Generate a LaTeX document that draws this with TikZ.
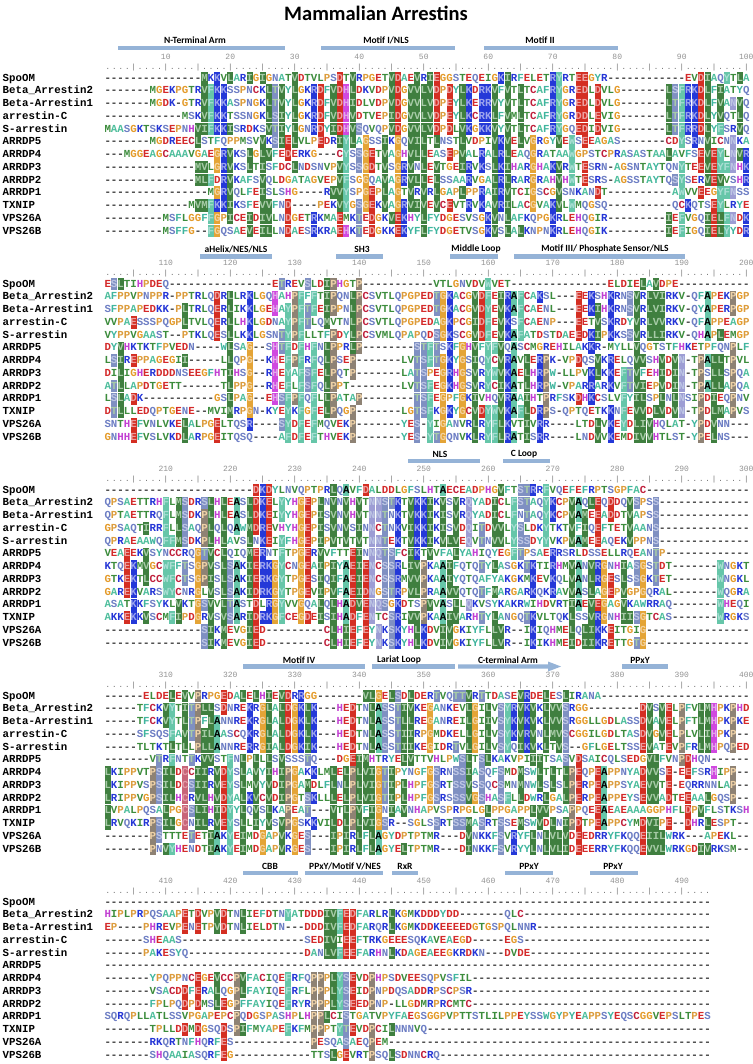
\documentclass[tikz,border=0pt]{standalone}
\usepackage{fontspec}
\setmonofont{Liberation Mono}
\newfontfamily\lblfont{Carlito}
\usepackage{xcolor}
% letter colours
\definecolor{LD}{HTML}{D42A2A}\definecolor{LE}{HTML}{D42A2A}
\definecolor{LK}{HTML}{2435D6}\definecolor{LR}{HTML}{2435D6}
\definecolor{LH}{HTML}{C23FD2}
\definecolor{LG}{HTML}{E49A28}\definecolor{LP}{HTML}{DC9C3C}
\definecolor{LI}{HTML}{3C8C3C}\definecolor{LL}{HTML}{3C8C3C}
\definecolor{LV}{HTML}{3C8C3C}\definecolor{LM}{HTML}{3C8C3C}
\definecolor{LT}{HTML}{3C8C3C}
\definecolor{LA}{HTML}{4DBE9C}
\definecolor{LF}{HTML}{3FB59E}\definecolor{LY}{HTML}{3FB59E}\definecolor{LW}{HTML}{3FB59E}
\definecolor{LS}{HTML}{6D7EC4}\definecolor{LN}{HTML}{6D7EC4}\definecolor{LQ}{HTML}{6D7EC4}
\definecolor{LC}{HTML}{C0203C}
\definecolor{Ldash}{HTML}{333333}
% box colours
\definecolor{BXh}{HTML}{3F7F3F}
\definecolor{BXf}{HTML}{66C6A9}
\definecolor{BXa}{HTML}{66C6A9}
\definecolor{BXk}{HTML}{2438D8}
\definecolor{BXd}{HTML}{D42E22}
\definecolor{BXH}{HTML}{D048E0}
\definecolor{BXg}{HTML}{E4A436}
\definecolor{BXp}{HTML}{8E8274}
\definecolor{BXs}{HTML}{7F90C2}
\definecolor{BXn}{HTML}{9D9DD4}
\definecolor{BXc}{HTML}{C86478}
\definecolor{barc}{HTML}{95B3D7}

\newcommand\cellN[1]{\makebox[6.45pt][c]{\textcolor{L#1}{#1}}}
\newcommand\cellB[1]{\makebox[6.45pt][c]{\textcolor{L#1!45!white}{#1}}}
\newcommand\cellK[1]{\makebox[6.45pt][c]{\textcolor{black}{#1}}}
\newcommand\celldash{\makebox[6.45pt][c]{\textcolor{Ldash}{-}}}
\newcommand\bxcell[5]{\fill[#5] (#1,#2) rectangle (#3,#4);}
\newcommand\rowtext[2]{\node[seqtext] at (104.5,{#1+3.1}) {#2};}
\newcommand\rulertext[2]{\node[rulerstyle] at (104.5,#1) {#2};}
\newcommand\rulernum[3]{\node[numstyle] at (#1,#2) {#3};}

\ExplSyntaxOn
\int_new:N \g_len_int
\int_new:N \l_aa_c_int
\int_new:N \l_aa_r_int
\tl_new:N \l_aa_ch_tl
\tl_new:N \l_aa_cls_tl
\tl_new:N \l_aa_row_tl
\fp_new:N \l_aa_y_fp
\int_const:Nn \c_aa_thr_int {5}
\clist_const:Nn \c_aa_classes_clist {h,f,a,k,d,H,g,p,s,n,c,x}
\clist_map_inline:Nn \c_aa_classes_clist { \int_new:c {l_aa_cnt_#1_int} }

\cs_new:Npn \aa_class:n #1
 {
  \str_case:nnF {#1}
   {
    {I}{h} {L}{h} {V}{h} {M}{h}
    {F}{f} {Y}{f} {W}{f}
    {A}{a}
    {K}{k} {R}{k}
    {D}{d} {E}{d}
    {H}{H}
    {G}{g}
    {P}{p}
    {S}{s} {T}{s}
    {N}{n} {Q}{n}
    {C}{c}
   }
   {x}
 }
\cs_generate_variant:Nn \aa_class:n {v}

\cs_new_protected:Npn \aa_store_row:nn #1 #2
 {
  \int_zero:N \l_aa_c_int
  \str_map_inline:nn {#2}
   {
    \int_compare:nNnT \l_aa_c_int < \g_len_int
     {
      \int_incr:N \l_aa_c_int
      \tl_set:cn { aa_ch_ \int_use:N \l_aa_c_int _ #1 } {##1}
     }
   }
  \int_while_do:nNnn \l_aa_c_int < \g_len_int
   {
    \int_incr:N \l_aa_c_int
    \tl_set:cn { aa_ch_ \int_use:N \l_aa_c_int _ #1 } {-}
   }
 }
\cs_generate_variant:Nn \aa_store_row:nn {Vn}

\cs_new_protected:Npn \aa_do_column:n #1
 {
  \clist_map_inline:Nn \c_aa_classes_clist { \int_zero:c {l_aa_cnt_##1_int} }
  \int_step_inline:nn {13}
   { \int_incr:c { l_aa_cnt_ \aa_class:v { aa_ch_#1_##1 } _int } }
  \int_step_inline:nn {13}
   {
    \tl_set:Nx \l_aa_cls_tl { \aa_class:v { aa_ch_#1_##1 } }
    \tl_set:cn { aa_fl_#1_##1 } {0}
    \str_if_eq:eeF { \l_aa_cls_tl } {x}
     {
      \int_compare:nNnT { \int_use:c { l_aa_cnt_ \l_aa_cls_tl _int } } > { \c_aa_thr_int - 1 }
       {
        \tl_set:cn { aa_fl_#1_##1 } {1}
        \use:x
         {
          \exp_not:N \bxcell
           { \fp_eval:n { 104.5 + (#1 - 1) * 6.45 + 0.2 } }
           { \fp_eval:n { \l_aa_y_fp + (##1 - 1) * 12.75 - 6.25 } }
           { \fp_eval:n { 104.5 + #1 * 6.45 - 0.2 } }
           { \fp_eval:n { \l_aa_y_fp + (##1 - 1) * 12.75 + 6.25 } }
           { BX \l_aa_cls_tl }
         }
       }
     }
   }
 }

\cs_new_protected:Npn \aa_typeset_row:n #1
 {
  \tl_clear:N \l_aa_row_tl
  \int_step_inline:nn { \g_len_int }
   {
    \tl_set_eq:Nc \l_aa_ch_tl { aa_ch_##1_#1 }
    \str_if_eq:eeTF { \l_aa_ch_tl } {-}
     { \tl_put_right:Nn \l_aa_row_tl { \celldash } }
     {
      \str_if_eq:eeTF { \tl_use:c { aa_fl_##1_#1 } } {1}
       {
        \str_if_eq:eeTF { \l_aa_ch_tl } {A}
         { \tl_put_right:Nx \l_aa_row_tl { \exp_not:N \cellK { \l_aa_ch_tl } } }
         { \tl_put_right:Nx \l_aa_row_tl { \exp_not:N \cellB { \l_aa_ch_tl } } }
       }
       { \tl_put_right:Nx \l_aa_row_tl { \exp_not:N \cellN { \l_aa_ch_tl } } }
     }
   }
  \use:x
   {
    \exp_not:N \rowtext
     { \fp_eval:n { \l_aa_y_fp + (#1 - 1) * 12.75 } }
     { \exp_not:V \l_aa_row_tl }
   }
 }

\NewDocumentCommand \drawblock { m m m }
 {
  \fp_set:Nn \l_aa_y_fp {#1}
  \int_gset:Nn \g_len_int {#2}
  \int_zero:N \l_aa_r_int
  \tl_map_inline:nn {#3}
   {
    \int_incr:N \l_aa_r_int
    \aa_store_row:Vn \l_aa_r_int {##1}
   }
  \int_step_inline:nn {#2} { \aa_do_column:n {##1} }
  \int_step_inline:nn {13} { \aa_typeset_row:n {##1} }
 }

\NewDocumentCommand \drawruler { m m m }
 {
  \tl_clear:N \l_aa_row_tl
  \int_step_inline:nn {#2}
   {
    \int_compare:nNnTF { \int_mod:nn {##1} {5} } = {0}
     { \tl_put_right:Nn \l_aa_row_tl { \makebox[6.45pt][c]{|} } }
     { \tl_put_right:Nn \l_aa_row_tl { \makebox[6.45pt][c]{.} } }
   }
  \use:x { \exp_not:N \rulertext {#1} { \exp_not:V \l_aa_row_tl } }
  \int_step_inline:nnnn {10} {10} {#2}
   {
    \use:x
     {
      \exp_not:N \rulernum
       { \fp_eval:n { 104.5 + (##1 - 0.5) * 6.45 } }
       { \fp_eval:n { #1 - 11 } }
       { \int_eval:n { ##1 + #3 } }
     }
   }
 }
\ExplSyntaxOff

\begin{document}
\begin{tikzpicture}[x=1pt,y=-1pt,
  seqtext/.style={anchor=base west,inner sep=0pt,outer sep=0pt,font=\ttfamily\bfseries\fontsize{10.75}{12}\selectfont},
  seqname/.style={anchor=base west,inner sep=0pt,outer sep=0pt,font=\ttfamily\bfseries\fontsize{10.75}{12}\selectfont},
  rulerstyle/.style={anchor=west,inner sep=0pt,text=gray!85!black,font=\ttfamily\fontsize{7.5}{8}\selectfont},
  numstyle/.style={inner sep=0pt,text=gray!85,font=\ttfamily\fontsize{8}{9}\selectfont},
  lbl/.style={inner sep=0pt,font=\lblfont\bfseries\fontsize{9.5}{11}\selectfont},
  featbar/.style={fill=barc}]
\useasboundingbox (0,0) rectangle (752,1064);
\fill[white] (0,0) rectangle (752,1064);
\node[font=\lblfont\bfseries\fontsize{20.5}{24}\selectfont] (title) at (376,13) {Mammalian Arrestins};

% sequence names
\foreach \b in {0,...,4}{
  \foreach \n [count=\i] in {SpoOM,{Beta\_Arrestin2},Beta-Arrestin1,arrestin-C,S-arrestin,ARRDP5,ARRDP4,ARRDP3,ARRDP2,ARRDP1,TXNIP,VPS26A,VPS26B}{
    \node[seqname] at (2.7,{78+206*\b+(\i-1)*12.75+3.1}) {\n};
  }
}

% feature bars and labels
% block 1
\fill[featbar] (117.5,45.8) rectangle (285,50.2);
\node[lbl] (f1) at (195,40) {N-Terminal Arm};
\fill[featbar] (321,45.8) rectangle (455,50.2);
\node[lbl] (f2) at (386,40) {Motif I/NLS};
\fill[featbar] (484,45.8) rectangle (618,50.2);
\node[lbl] (f3) at (540,40) {Motif II};
% block 2
\fill[featbar] (200,254.3) rectangle (272,258.7);
\node[lbl] (f4) at (236,249) {aHelix/NES/NLS};
\fill[featbar] (336,254.3) rectangle (383,258.7);
\node[lbl] (f5) at (362,249) {SH3};
\fill[featbar] (450,254.3) rectangle (498,258.7);
\node[lbl] (f6) at (476,249) {Middle Loop};
\fill[featbar] (514,254.3) rectangle (685,258.7);
\node[lbl] (f7) at (605,249) {Motif III/ Phosphate Sensor/NLS};
% block 3
\fill[featbar] (408,458.8) rectangle (480,463.2);
\node[lbl] (f8) at (440,454) {NLS};
\fill[featbar] (503,458.8) rectangle (550,463.2);
\node[lbl] (f9) at (524,454) {C Loop};
% block 4
\fill[featbar] (243,664.3) rectangle (365,668.7);
\node[lbl] (f10) at (299,660) {Motif IV};
\fill[featbar] (372,664.3) rectangle (455,668.7);
\node[lbl] (f11) at (399,660) {Lariat Loop};
\fill[featbar] (458,664.3) -- (548,664.3) -- (548,661.5) -- (561,666.5) -- (548,671.5) -- (548,668.7) -- (458,668.7) -- cycle;
\node[lbl] (f12) at (508,660) {C-terminal Arm};
\fill[featbar] (622,664.3) rectangle (668,668.7);
\node[lbl] (f13) at (640,660) {PPxY};
% block 5
\fill[featbar] (243,870.8) rectangle (298,875.2);
\node[lbl] (f14) at (270,866) {CBB};
\fill[featbar] (305,870.8) rectangle (383,875.2);
\node[lbl] (f15) at (345,866) {PPxY/Motif V/NES};
\fill[featbar] (392,870.8) rectangle (418,875.2);
\node[lbl] (f16) at (405,866) {RxR};
\fill[featbar] (505,870.8) rectangle (553,875.2);
\node[lbl] (f17) at (529,866) {PPxY};
\fill[featbar] (590,870.8) rectangle (638,875.2);
\node[lbl] (f18) at (613,866) {PPxY};

% rulers
\drawruler{68}{100}{0}
\drawruler{274}{100}{100}
\drawruler{480}{100}{200}
\drawruler{686}{100}{300}
\drawruler{892}{94}{400}

% block 1
\drawblock{78}{100}{
{---------------MKKVLARIGIGNATVDTVLPSDTVRPGETVDAEVRIEGGSTEQEIGKIRFELETRYRTEEGYR------------EVDIAQYTLA}
{-------MGEKPGTRVFKKSSPNCKLTVYLGKRDFVDHLDKVDPVDGVVLVDPDYLKDRKVFVTLTCAFRYGREDLDVLG-------LSFRKDLFIATYQ}
{-------MGDK-GTRVFKKASPNGKLTVYLGKRDFVDHIDLVDPVDGVVLVDPEYLKERRVYVTLTCAFRYGREDLDVLG-------LTFRKDLFVANVQ}
{------------MSKVFKKTSSNGKLSIYLGKRDFVDHVDTVEPIDGVVLVDPEYLKCRKLFVMLTCAFRYGRDDLEVIG-------LTFRKDLYVQTLQ}
{MAASGKTSKSEPNHVIFKKISRDKSVTIYLGNRDYIDHVSQVQPVDGVVLVDPDLVKGKKVYVTLTCAFRYGQEDIDVIG-------LTFRRDLYFSRVQ}
{-------MGDREECLSTFQPPMSVVKSIELVLPEDRIYLAGSSIKGQVILTLNSTLVDPIVKVELVGRGYVEWSEEAGAS-------CDYSRNVICNNKA}
{---MGGEAGCAAAVGAEGRVKSLGLVFEDERKG---CYSSGETVAGHVLLEASEPVALRALRLEAQGRATAAWGPSTCPRASASTAALAVFSEVEYLNVR}
{--------------MVLGRVKSLTISFDCLNDSNVPVYSSGDTVSGRVNLEVTGEIRVKSLKIHARGHAKVRWTESRN-AGSNTAYTQNYTEEVEYFNHK}
{--------------MLFDRVKAFSVQLDGATAGVEPVFSGGQAVAGRVLLELSSAARVGALRLRARGRAHVHWTESRS-AGSSTAYTQSYSERVEVVSHR}
{----------------MGRVQLFEISLSHG----RVVYSPGEPLAGTVRVRLGAPLPPRAIRVTCIGSCGVSNKANDT----------AWVVEEGYFNSS}
{-------------MVMFKKIKSFEVVFND----PEKVYGSGEKVAGRVIVEVCEVTRVKAVRILACGVAKVLWMQGSQ----------QCKQTSEYLRYE}
{---------MSFLGGFFGPICEIDIVLNDGETRKMAEMKTEDGKVEKHYLFYDGESVSGKVNLAFKQPGKRLEHQGIR---------IEFVGQIELFNDK}
{---------MSFFG--FGQSAEVEILLNDAESRKRAEHKTEDGKKEKYFLFYDGETVSGKVSLALKNPNKRLEHQGIK---------IEFIGQIELYYDR}
}

% block 2
\drawblock{284}{100}{
{ESLTIHPDEQ----------------ETREVSLDIPHGTP-----------VTLGNVDVWVET---------------ELDIELAVDPE}
{AFPPVPNPPR-PPTRLQDRLLRKLGQHAHPFFFTIPQNLPCSVTLQPGPEDTGKACGVDFEIRAFCAKSL---EEKSHKRNSVRLVIRKV-QFAPEKPGP}
{SFPPAPEDKK-PLTRLQERLIKKLGEHAYPFTFEIPPNLPCSVTLQPGPEDTGKACGVDYEVKAFCAENL---EEKIHKRNSVRLVIRKV-QYAPERPGP}
{VVPAESSSPQGPLTVLQERLLHKLGDNAYPFTLQMVTNLPCSVTLQPGPEDAGKPCGIDFEVKSFCAENP---EETVSKRDYVRLVVRKV-QFAPPEAGP}
{VYPPVGAAST--PTKLQESLLKKLGSNTYPFLLTFPDYLPCSVMLQPAPQDSGKSCGVDFEVKAFATDSTDAEEDKIPKKSSVRLLIRKV-QHAPLEMGP}
{DYVHKTKTFPVEDN----WLSAG--SHTFDFHFNLPPRLP--------STFTSKFGHVFYFVQASCMGREHILAKKR-MYLLVQGTSTFHKETPFQNPLF}
{LSIREPPAGEGII-----LLQPG--KHEFPFRFQLPSEP-------LVTSFTGKYGSIQYCVRAVLERPK-VPDQSVKRELQVVSHVDVN-TPALLTPVL}
{DILIGHERDDDNSEEGFHTIHSG--RHEYAFSFELPQTP-------LATSPEGRHGSVRYWVKAELHRPW-LLPVKLKKEFTVFEHIDIN-TPSLLSPQA}
{ATLLAPDTGETT------TLPPG--RHEFLFSFQLPPT--------LVTSFEGKHGSVRYCIKATLHRPW-VPARRARKVFTVIEPVDIN-TPALLAPQA}
{LSLADK-----------GSLPAG--EHSFPFQFLLPATAP--------TSFEGPFGKIVHQVRAAIHTPRFSKDHKCSLVFYILSPLNLNSIPDIEQPNV}
{DTLLLEDQPTGENE--MVIMRPGN-KYEYKFGFELPQGP-------LGTSFKGKYGCVDYWVKAFLDRPS-QPTQETKKNFEVVDLVDVN-TPDLMAPVS}
{SNTHEFVNLVKELALPGELTQSR----SYDFEFMQVEKP-------YES-YIGANVRLRYFLKVTIVRR----LTDLVKEYDLIVHQLAT-YPDVNN---}
{GNHHEFVSLVKDLARPGEITQSQ----AFDFEFTHVEKP-------YES-YTGQNVKLRYFLRATISRR----LNDVVKEMDIVVHTLST-YPELNS---}
}

% block 3
\drawblock{490}{100}{
{-----------------------DKDYLNVQPTPRLQAVFDALDDLGFSLHTAECEADPHGVFTSTRRFVQEFEFRPTSGPFAC}
{QPSAETTRHFLMSDRSLHLEASLDKELYYHGEPLNVNVHVTNNSTKTVKKIKVSVRQYADICLFSTAQYKCPVAQLEQDDQVSPSS}
{QPTAETTRQFLMSDKPLHLEASLDKEIYYHGEPISVNVHVTNNTNKTVKKIKISVRQYADICLFNTAQYKCPVAMEEADDTVAPSS}
{GPSAQTIRRFLLSAQPLQLQAWMDREVHYHGEPISVNVSINNCTNKVIKKIKISVDQITDVVLYSLDKYTKTVFIQEFTETVAANS}
{QPRAEAAWQFFMSDKPLHLAVSLNKEIYFHGEPIPVTVTVTNNTEKTVKKIKVLVEQVTNVVLYSSDYYVKPVAMEEAQEKVPPNS}
{VEAEEKVSYNCCRQGTVCLQIQMERNTFTPGERVVFTTEINNQTSFCIKTVVFALYAHIQYEGFTPSAERRSRLDSSELLRQEANTP}
{KTQEKMVGCWFFTSGPVSLSAKIERKGYCNGEAIPIYAEIENCSSRLIVPKAAIFQTQTYLASGKTKTIRHMVANVRGNHIASGSTDT-------WNGKT}
{GTKEKTLCCWFCTSGPISLSAKIERKGYTPGESIQIFAEIENCSSRMVVPKAAIYQTQAFYAKGKMKEVKQLVANLRGESLSSGKTET-------WNGKL}
{GAREKVARSWYCNRGLVSLSAKIDRKGYTPGEVIPVFAEIDNGSTRPVLPRAAVVQTQTFMARGARKQKRAVVASLAGEPVGPGQRAL-------WQGRA}
{ASATKKFSYKLVKTGSVVLTASTDLRGYVVGQALQLHADVENQSGKDTSPVVASLLQKVSYKAKRWIHDVRTIAEVEGAGVKAWRRAQ-------WHEQI}
{AKKEKKVSCMFIPDGRVSVSARIDRKGFCEGDEISIHADFENTCSRIVVPKAAIVARHTYLANGQTKVLTQKLSSVRGNHIISGTCAS-------WRGKS}
{---------------SIKMEVGIED---------CLHIEFEYNKSKYHLKDVIVGKIYFLLVR--IKIQHMELQLIKKEITGIG}
{---------------SIKMEVGIED---------CLHIEFEYNKSKYHLKDVIVGKIYFLLVR--IKIKHMEIDIIKRETTGTG}
}

% block 4
\drawblock{696}{100}{
{------ELDELEVVPRPGEDALELHIEVDRRGG-------VLGELSDLDERTVQTTVRTTDASEVRDELESLIRANA}
{-----TFCKVYTITPLLSDNREKRGLALDGKLK---HEDTNLASSTIVKEGANKEVLGILVSYRVKVKLVVSRGG--------DVSVELPFVLMHPKPHD}
{-----TFCKVYTLTPFLANNREKRGLALDGKLK---HEDTNLASSTLLREGANREILGIIVSYKVKVKLVVSRGGLLGDLASSDVAVELPFTLMHPKPKE}
{-----SFSQSFAVTPILAASCQKRGLALDGKLK---HEDTNLASSTIIRPGMDKELLGILVSYKVRVNLMVSCGGILGDLTASDVGVELPLVLIHPKP}
{-----TLTKTLTLLPLLANNRERRGIALDGKIK---HEDTNLASSTIIKEGIDRTVLGILVSYQIKVKLTVS--GFLGELTSSEVATEVPFRLMHPQPED}
{-------VTRFNTTKVVSTFNLPLLLSVSSSTQ---DGEIMHTRYELVTTVHLPWSLTSLKAKVPIIITSASVDSAICQLSEDGVLFVNPDHQN}
{LKIPPVTPSILDCCIIRVDYSLAVYIHIPGAKKLMLELPLVIGTIPYNGFGSRNSSIASQFSMDMSWLTLTLPEQPEAPPNYADVVSE-EEFSRHIPP}
{LKIPPVSPSILDCSIIRVEYSLMVYVDIPGAMDLFLNLPLVIGTIPLHPFGSRTSSVSSQCSMNMNWLSLSLPERPEAPPSYAEVVTE-EQRRNNLAP}
{LRIPPVGPSILHCRVLHVDYALKVCVDIPGTSKLLLELPLVIGTIPLHPFGSRSSSVGSHASFLLDWRLGALPERPEAPPEYSEVVADTEEAALGQSP}
{LVPALPQSALPGCSLIHIDYYLQVSLKAPEAT---VTLPVFIGNIAVNHAPVSPRPGLGLPPGAPPLVVPSAPPQEEAEAEAAAGGPHFLDPVFLSTKSH}
{LRVQKIRPSILGCNILRVEYSLLIYVSVPGSKKVILDLPLVIGSR--SGLSSRTSSMASRTSSEMSWVDLNIPDTPEAPPCYMDVIPE--DHRLESPT}
{-------PSTTTETETIAKYEIMDGAPVKGES---IPIRLFLAGYDPTPTMR---DVNKKFSVRYFLNLVLVDEEDRRYFKQQEIILWRK---APEKL}
{-------PNVYHENDTIAKYEIMDGAPVRGES---IPIRLFLAGYELTPTMR---DINKKFSVRYYLNLVLIDEEERRYFKQQEVVLWRKGDIVRKSM}
}

% block 5
\drawblock{902}{94}{
{}
{HIPLPRPQSAAPETDVPVDTNLIEFDTNYATDDDIVFEDFARLRLKGMKDDDYDD-------QLC}
{EP----PHREVPENETPVDTNLIELDTN---DDDIVFEDFARQRLKGMKDDKEEEEDGTGSPQLNNR}
{------SHEAAS-------------------SEDIVIEEFTRKGEEESQKAVEAEGD-----EGS}
{------PAKESYQ------------------DANLVFEEFARHNLKDAGEAEEGKRDKN---DVDE}
{}
{-------YPQPPNCEGEVCCPVFACIQEFRFQPPPLYSEVDPHPSDVEESQPVSFIL}
{-------VSACDDFERALQGPLFAYIQEFRFLPPPLYSEIDPNPDQSADDRPSCPSR}
{-------FPLPQDPDMSLEGPFFAYIQEFRYRPPPLYSEEDPNP-LLGDMRPRCMTC}
{SQRQPLLATLSSVPGAPEPCPQDGSPASHPLHPPLCISTGATVPYFAEGSGGPVPTTSTLILPPEYSSWGYPYEAPPSYEQSCGGVEPSLTPES}
{-------TPLLDDMDGSQDSPIFMYAPEFKFMPPPTYTEVDPCILNNNVQ}
{-------RKQRTNFHQRFES------------PESQASAEQPEM}
{-------SHQAAIASQRFEG------------TTSLGEVRTPSQLSDNNCRQ}
}
\end{tikzpicture}
\end{document}
